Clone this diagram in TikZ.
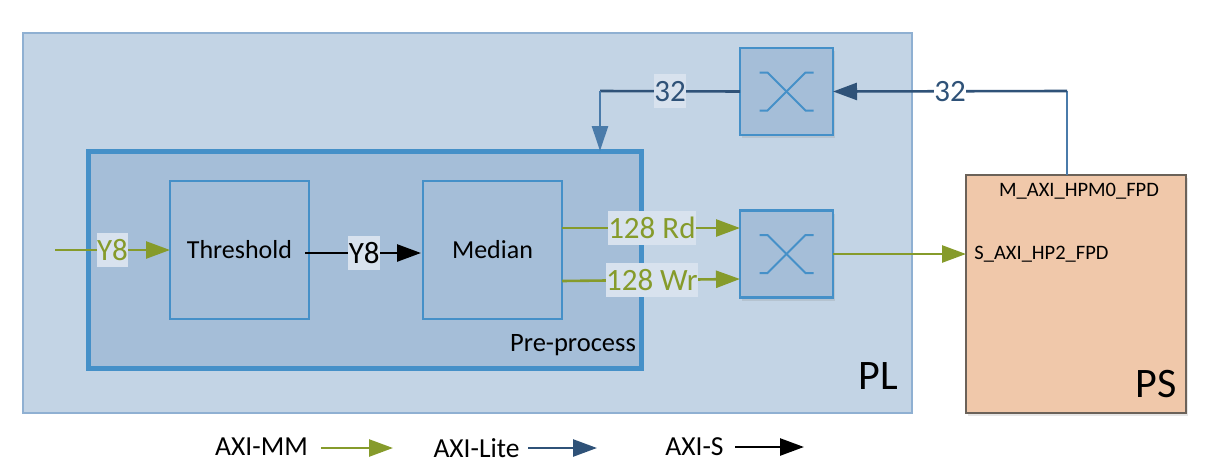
\documentclass[tikz,border=0pt]{standalone}
\usepackage{fontspec}
\setmainfont{Carlito}
\usepackage{tikz}
\usetikzlibrary{arrows.meta,positioning,shadows}

\definecolor{plfill}{HTML}{C3D4E5}
\definecolor{pldraw}{HTML}{8FB0D2}
\definecolor{blockfill}{HTML}{A5BED8}
\definecolor{blockdraw}{HTML}{4590C8}
\definecolor{psfill}{HTML}{F0C8AA}
\definecolor{psdraw}{HTML}{6B6259}
\definecolor{mmgreen}{HTML}{869B2B}
\definecolor{liteblue}{HTML}{2F5278}
\definecolor{litepale}{HTML}{4A7BAA}
\definecolor{tagfill}{HTML}{D8E2EE}

% crossbar symbol inside a switch block
\newcommand{\xbarsym}[1]{
  \draw[blockdraw,line width=2pt] ([shift={(-27,-19)}]#1.center) -- ++(8,0) -- ++(38,38) -- ++(8,0);
  \draw[blockdraw,line width=2pt] ([shift={(-27,19)}]#1.center) -- ++(8,0) -- ++(38,-38) -- ++(8,0);
}

\begin{document}
\begin{tikzpicture}[
  x=1pt,y=-1pt,
  outer sep=0pt,
  softshadow/.style={drop shadow={opacity=0.2,shadow xshift=2pt,shadow yshift=-3pt}},
  regionbox/.style={draw=pldraw,line width=2.4pt,fill=plfill},
  groupbox/.style={draw=blockdraw,line width=5pt,fill=blockfill,softshadow},
  ipbox/.style={draw=blockdraw,line width=2.2pt,fill=blockfill,minimum width=139pt,minimum height=138pt,font=\fontsize{26}{30}\selectfont},
  xbarbox/.style={draw=blockdraw,line width=2.2pt,fill=blockfill,minimum width=93pt,minimum height=87pt,softshadow},
  psbox/.style={draw=psdraw,line width=2.4pt,fill=psfill,softshadow},
  tag/.style={fill=tagfill,inner sep=0.5pt,font=\fontsize{31}{34}\selectfont,minimum height=34pt},
  port/.style={inner sep=0pt,font=\fontsize{20.5}{24}\selectfont},
  caption/.style={inner sep=0pt,font=\fontsize{42}{46}\selectfont},
  legend/.style={inner sep=0pt,font=\fontsize{27.5}{31}\selectfont},
  mmarrow/.style={-{Triangle[length=24pt,width=17pt]},draw=mmgreen,line width=2.6pt},
  litearrow/.style={-{Triangle[length=24pt,width=17pt]},draw=liteblue,line width=2.6pt},
  sarrow/.style={-{Triangle[length=24pt,width=17pt]},draw=black,line width=2.6pt}
]
\useasboundingbox (0,0) rectangle (1211,474);
\node[regionbox,minimum width=889pt,minimum height=380pt] (pl) at (467.5,223) {};
\node[groupbox,minimum width=553pt,minimum height=217pt] (preprocess) at (364.5,259.5) {};
\node[ipbox] (threshold) at (239.5,250) {Threshold};
\node[ipbox,right=114pt of threshold] (median) {Median};
\node[xbarbox] (xbartop) at (786.5,91.5) {};
\node[xbarbox] (xbarbot) at (786.5,254) {};
\node[psbox,minimum width=220pt,minimum height=238pt] (ps) at (1076,294) {};
\xbarsym{xbartop}
\xbarsym{xbarbot}

\node[caption] (pllabel) at (878,376) {PL};
\node[caption] (pslabel) at (1156,384) {PS};
\node[legend,font=\fontsize{26.5}{30}\selectfont] (prelabel) at (573,345) {Pre-process};
\node[port] (hpmport) at (1079,191) {M\_AXI\_HPM0\_FPD};
\node[port] (hpport) at (1041.5,254.5) {S\_AXI\_HP2\_FPD};

\coordinate (videoin) at (55,250);
\coordinate (litecorner) at (1067,91);
\coordinate (pecorner) at (600,91);
\coordinate (petop) at (600,151);
\draw[mmarrow] (videoin) -- node[tag,text=mmgreen,pos=0.5] (yin) {Y8} (threshold.west);
\draw[sarrow] ([shift={(-4,3)}]threshold.east) -- node[tag,pos=0.51] (ymid) {Y8} ([shift={(-2,3)}]median.west);
\draw[mmarrow] ([yshift=22pt]median.east) -- node[tag,text=mmgreen,pos=0.505] (rdtag) {128 Rd} ([yshift=26pt]xbarbot.west);
\draw[mmarrow] ([yshift=-31pt]median.east) -- node[tag,text=mmgreen,pos=0.505] (wrtag) {128 Wr} ([yshift=-25pt]xbarbot.west);
\draw[mmarrow] (xbarbot.east) -- (ps.west |- xbarbot.east);
\draw[litepale,line width=2.6pt] (ps.north -| litecorner) -- (litecorner);
\draw[litearrow] (litecorner) -- node[tag,fill=white,text=liteblue,pos=0.5] (litein) {32} (xbartop.east);
\draw[liteblue,line width=2.6pt] (xbartop.west) -- node[tag,text=liteblue,pos=0.5] (liteout) {32} (pecorner);
\draw[-{Triangle[length=25pt,width=16pt]},draw=litepale,line width=2.6pt] (pecorner) -- (petop);

\node[legend] (legmm) at (261.5,447) {AXI-MM};
\node[legend] (leglite) at (476.5,448) {AXI-Lite};
\node[legend] (legs) at (694.5,447) {AXI-S};
\coordinate (legmmstart) at (321,448);
\coordinate (legmmend) at (393,448);
\coordinate (leglitestart) at (528,448);
\coordinate (leglitetip) at (597,448);
\coordinate (legsstart) at (735,447);
\coordinate (legsend) at (804,447);
\draw[mmarrow] (legmmstart) -- (legmmend);
\draw[litearrow] (leglitestart) -- (leglitetip);
\draw[sarrow] (legsstart) -- (legsend);
\end{tikzpicture}
\end{document}
